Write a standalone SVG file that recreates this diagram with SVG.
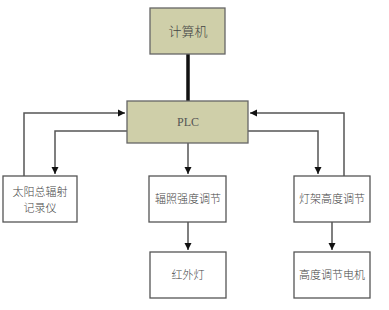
<svg xmlns="http://www.w3.org/2000/svg" width="389" height="310" viewBox="0 0 389 310">
<defs>
<marker id="ah" markerWidth="8" markerHeight="8" refX="7" refY="4" orient="auto" markerUnits="userSpaceOnUse">
<path d="M0,0.5 L7,4 L0,7.5 Z" fill="#111"/>
</marker>
<style>
.box{fill:#fff;stroke:#555;stroke-width:1.3}
.hl{fill:#cfcfa9;stroke:#666;stroke-width:1.3}
.t{font-family:"Noto Sans CJK SC","Noto Sans CJK JP",sans-serif;font-size:11px;font-weight:300;fill:#444;text-anchor:middle}
.c{fill:none;stroke:#555;stroke-width:1.5}
</style>
</defs>
<rect width="389" height="310" fill="#fff"/>
<g id="connectors">
<line x1="188" y1="54" x2="188" y2="101" stroke="#111" stroke-width="3.5"/>
<polyline class="c" points="24,176 24,113 125,113" marker-end="url(#ah)"/>
<polyline class="c" points="127,131 55,131 55,174" marker-end="url(#ah)"/>
<polyline class="c" points="188,143 188,174" marker-end="url(#ah)"/>
<polyline class="c" points="248,131 318,131 318,174" marker-end="url(#ah)"/>
<polyline class="c" points="344,176 344,113 250,113" marker-end="url(#ah)"/>
<polyline class="c" points="188,222 188,250" marker-end="url(#ah)"/>
<polyline class="c" points="332,222 332,250" marker-end="url(#ah)"/>
</g>
<g id="computer"><rect class="hl" x="150" y="8" width="75" height="46"/><text class="t" x="188" y="36" style="font-size:13px">计算机</text></g>
<g id="plc"><rect class="hl" x="127" y="101" width="121" height="42"/><text x="188" y="126" style="font-family:'Liberation Serif',serif;font-size:12px;fill:#555;text-anchor:middle">PLC</text></g>
<g id="solar"><rect class="box" x="3" y="176" width="74" height="46"/><text class="t" x="40" y="196">太阳总辐射</text><text class="t" x="40" y="212">记录仪</text></g>
<g id="irradiance"><rect class="box" x="149" y="176" width="77" height="46"/><text class="t" x="188" y="203">辐照强度调节</text></g>
<g id="lampheight"><rect class="box" x="294" y="176" width="76" height="46"/><text class="t" x="332" y="203">灯架高度调节</text></g>
<g id="infrared"><rect class="box" x="150" y="252" width="76" height="46"/><text class="t" x="188" y="279">红外灯</text></g>
<g id="motor"><rect class="box" x="294" y="252" width="76" height="46"/><text class="t" x="332" y="279">高度调节电机</text></g>
</svg>
